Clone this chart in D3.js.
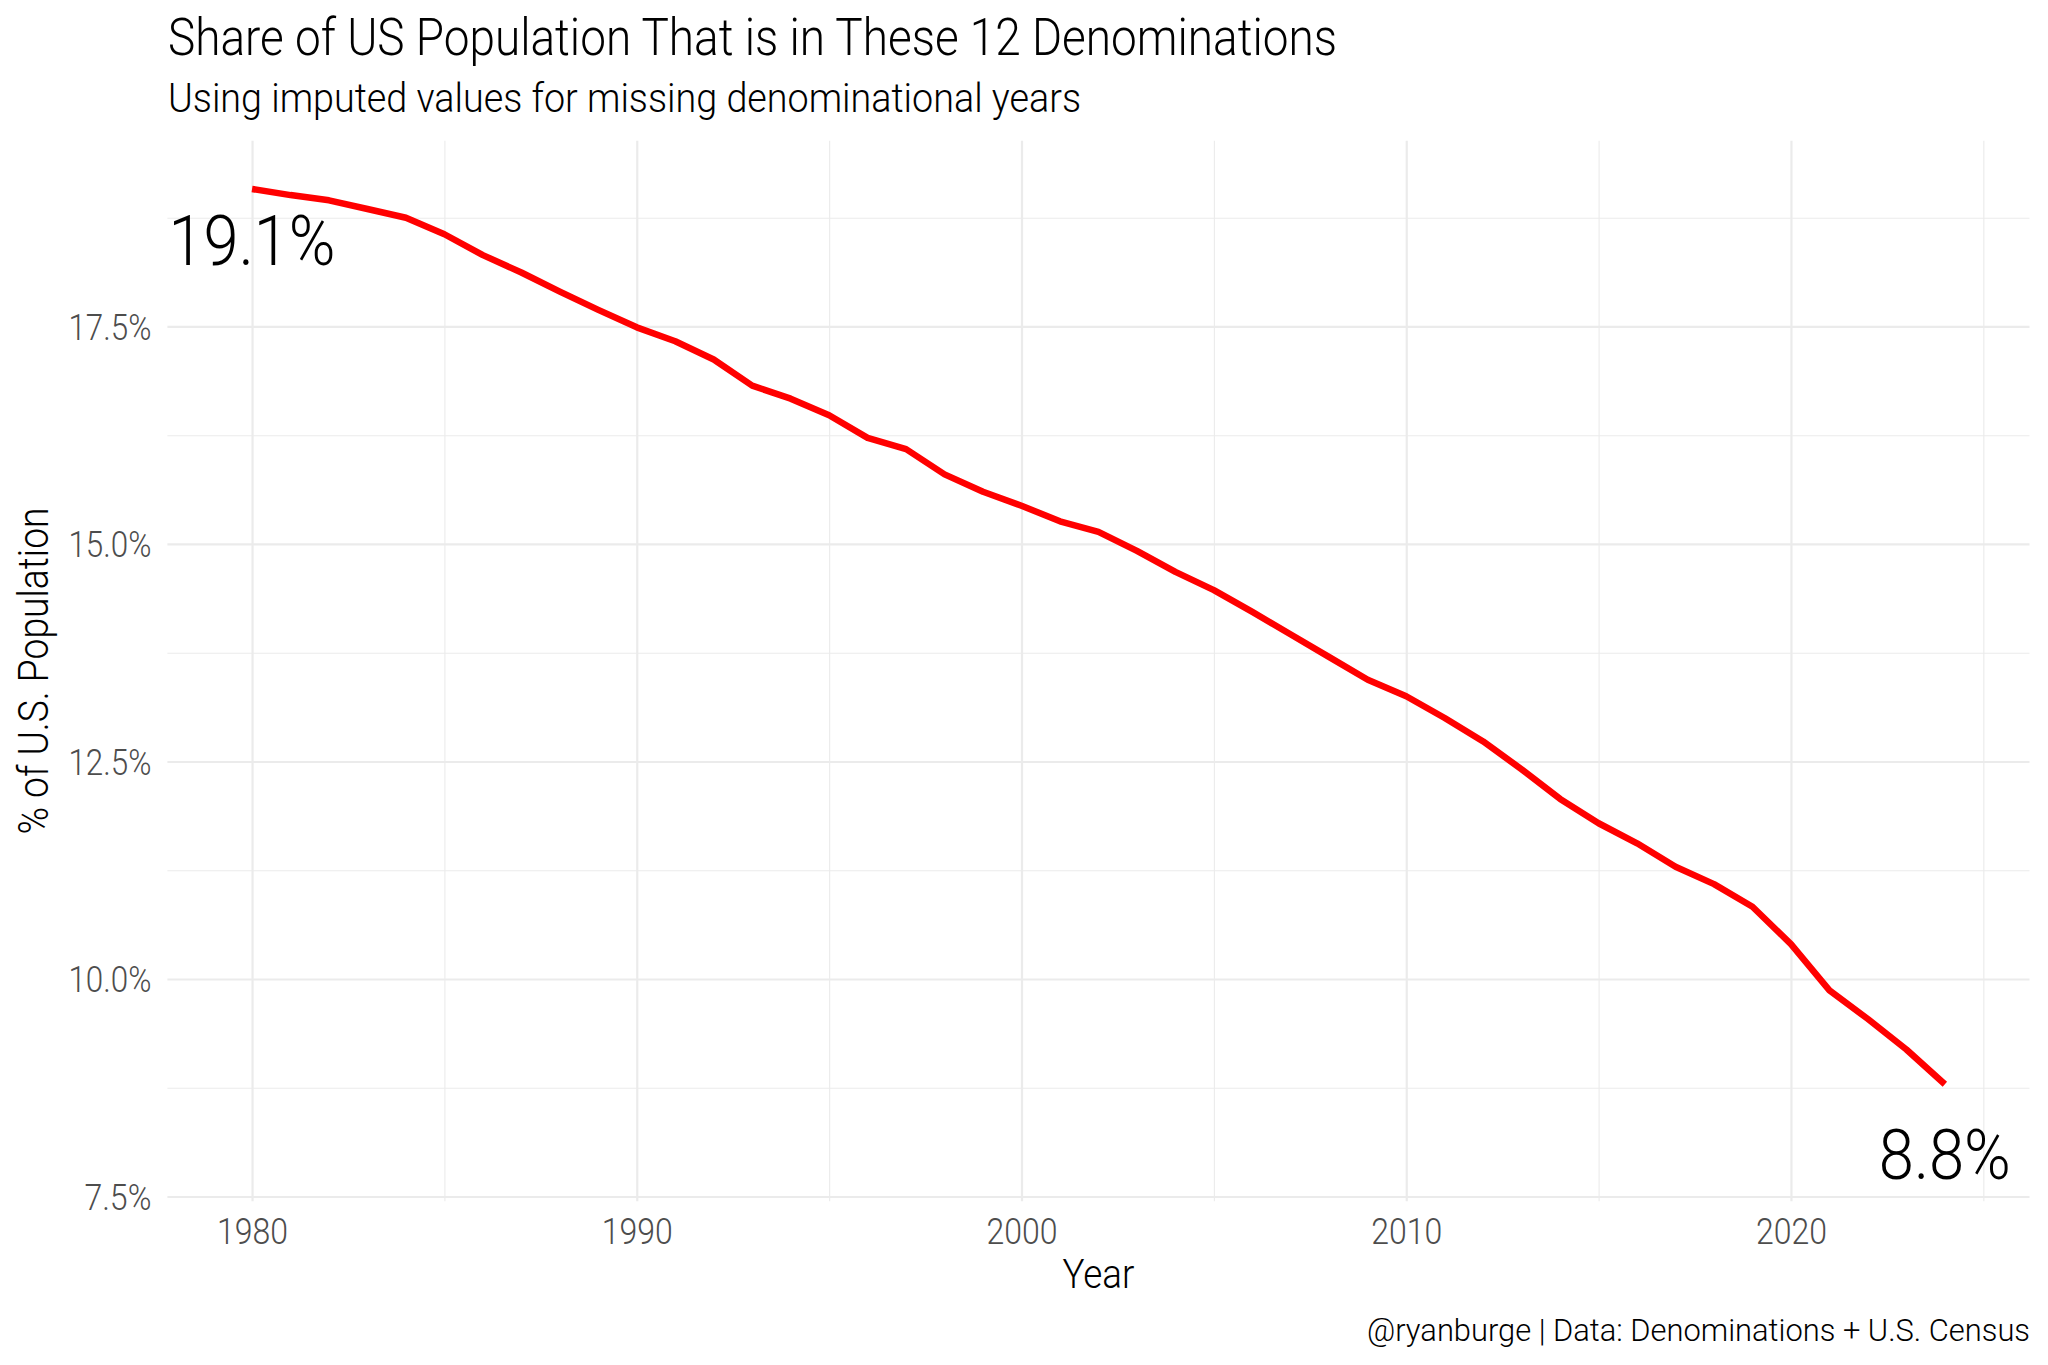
<!DOCTYPE html>
<html>
<head>
<meta charset="utf-8">
<script src="https://cdn.jsdelivr.net/npm/d3@7"></script>
<style>
  html, body { margin: 0; padding: 0; background: #fff; }
  svg { display: block; }
  text { font-family: "Roboto", "Liberation Sans Narrow", "DejaVu Sans Condensed", sans-serif; font-weight: 300; }
</style>
</head>
<body>
<svg id="chart" width="2048" height="1365"></svg>
<script>
// ---- data ----
const years = [1980,1981,1982,1983,1984,1985,1986,1987,1988,1989,
               1990,1991,1992,1993,1994,1995,1996,1997,1998,1999,
               2000,2001,2002,2003,2004,2005,2006,2007,2008,2009,
               2010,2011,2012,2013,2014,2015,2016,2017,2018,2019,
               2020,2021,2022,2023,2024];
const sharePct = [19.08,19.01,18.95,18.85,18.75,18.56,18.32,18.12,17.90,17.69,
                  17.49,17.33,17.12,16.82,16.67,16.48,16.22,16.09,15.80,15.60,
                  15.44,15.26,15.14,14.92,14.68,14.47,14.22,13.96,13.70,13.44,
                  13.25,13.00,12.73,12.41,12.07,11.79,11.56,11.29,11.09,10.83,
                  10.40,9.87,9.54,9.19,8.79];
const yTicks = [7.5, 10, 12.5, 15, 17.5];
const yMinor = [8.75, 11.25, 13.75, 16.25, 18.75];
const xTicks = [1980, 1990, 2000, 2010, 2020];
const xMinor = [1985, 1995, 2005, 2015, 2025];
const labelYears = [1980, 2024];
const labelY = [18.5, 8.0];
const labelText = ["19.1%", "8.8%"];
const titleText = "Share of US Population That is in These 12 Denominations";
const subtitleText = "Using imputed values for missing denominational years";
const captionText = "@ryanburge | Data: Denominations + U.S. Census";
const xTitle = "Year";
const yTitle = "% of U.S. Population";

// ---- layout ----
const svg = d3.select("#chart");
const panel = { left: 167.4, right: 2029.5, top: 140.8, bottom: 1201.2 };

// ggplot-like expansion
const xExt = d3.extent(years.concat(labelYears));
const xPad = (xExt[1] - xExt[0]) * 0.05;
const yExt = d3.extent(sharePct.concat(labelY));
const yPad = (yExt[1] - yExt[0]) * 0.05;

const x = d3.scaleLinear().domain([xExt[0] - xPad, xExt[1] + xPad]).range([panel.left, panel.right]);
const y = d3.scaleLinear().domain([yExt[0] - yPad, yExt[1] + yPad]).range([panel.bottom, panel.top]);
const W = panel.right - panel.left, H = panel.bottom - panel.top;

// ---- grid ----
const grid = svg.append("g");
function gridAxis(gen, vals, width, cls) {
  const g = grid.append("g").attr("class", cls).call(gen.tickValues(vals).tickFormat("").tickSizeOuter(0));
  g.select(".domain").remove();
  g.selectAll(".tick line").attr("stroke", "#ebebeb").attr("stroke-width", width);
  return g;
}
gridAxis(d3.axisLeft(y).tickSize(-W), yMinor, 1.1, "ymin").attr("transform", `translate(${panel.left},0)`);
gridAxis(d3.axisBottom(x).tickSize(-H), xMinor, 1.1, "xmin").attr("transform", `translate(0,${panel.bottom})`);
gridAxis(d3.axisLeft(y).tickSize(-W), yTicks, 2.2, "ymaj").attr("transform", `translate(${panel.left},0)`);
gridAxis(d3.axisBottom(x).tickSize(-H), xTicks, 2.2, "xmaj").attr("transform", `translate(0,${panel.bottom})`);

// ---- axis labels ----
const yAx = svg.append("g").attr("transform", `translate(${panel.left},0)`)
  .call(d3.axisLeft(y).tickValues(yTicks).tickSize(0).tickPadding(16).tickFormat(d => d3.format(".1f")(d) + "%"));
yAx.select(".domain").remove();
yAx.selectAll(".tick text").attr("fill", "#4d4d4d").style("font-size", "36px")
  .style("font-family", null).attr("dy", "0.36em")
  .attr("textLength", d => d < 10 ? 67 : 83).attr("lengthAdjust", "spacingAndGlyphs");

const xAx = svg.append("g").attr("transform", `translate(0,${panel.bottom})`)
  .call(d3.axisBottom(x).tickValues(xTicks).tickSize(0).tickPadding(17).tickFormat(d3.format("d")));
xAx.select(".domain").remove();
xAx.selectAll(".tick text").attr("fill", "#4d4d4d").style("font-size", "36px")
  .style("font-family", null).attr("dy", "0.71em")
  .attr("textLength", 71).attr("lengthAdjust", "spacingAndGlyphs");

// ---- line ----
const line = d3.line().x((d, i) => x(years[i])).y(d => y(d));
svg.append("path").datum(sharePct)
  .attr("d", line)
  .attr("fill", "none")
  .attr("stroke", "#ff0000")
  .attr("stroke-width", 6.5)
  .attr("stroke-linejoin", "round");

// ---- big labels ----
const bigW = [167, 132];
svg.append("g").selectAll("text").data(labelText).join("text")
  .attr("x", (d, i) => x(labelYears[i]))
  .attr("y", (d, i) => y(labelY[i]))
  .attr("dy", "0.36em")
  .attr("text-anchor", "middle")
  .attr("textLength", (d, i) => bigW[i])
  .attr("lengthAdjust", "spacingAndGlyphs")
  .style("font-size", "71px")
  .attr("fill", "#000")
  .text(d => d);

// ---- titles ----
svg.append("text").attr("x", 168).attr("y", 55)
  .attr("textLength", 1169).attr("lengthAdjust", "spacingAndGlyphs")
  .style("font-size", "52px").attr("fill", "#000").text(titleText);
svg.append("text").attr("x", 168).attr("y", 112)
  .attr("textLength", 913).attr("lengthAdjust", "spacingAndGlyphs")
  .style("font-size", "40px").attr("fill", "#000").text(subtitleText);

svg.append("text").attr("x", (panel.left + panel.right) / 2).attr("y", 1288)
  .attr("text-anchor", "middle")
  .attr("textLength", 72).attr("lengthAdjust", "spacingAndGlyphs")
  .style("font-size", "40px").attr("fill", "#000").text(xTitle);

svg.append("text")
  .attr("transform", `translate(48,${(panel.top + panel.bottom) / 2}) rotate(-90)`)
  .attr("text-anchor", "middle")
  .attr("textLength", 327).attr("lengthAdjust", "spacingAndGlyphs")
  .style("font-size", "42px").attr("fill", "#000").text(yTitle);

svg.append("text").attr("x", 2030).attr("y", 1341)
  .attr("text-anchor", "end")
  .attr("textLength", 663).attr("lengthAdjust", "spacingAndGlyphs")
  .style("font-size", "31px").attr("fill", "#000").text(captionText);
</script>
</body>
</html>
